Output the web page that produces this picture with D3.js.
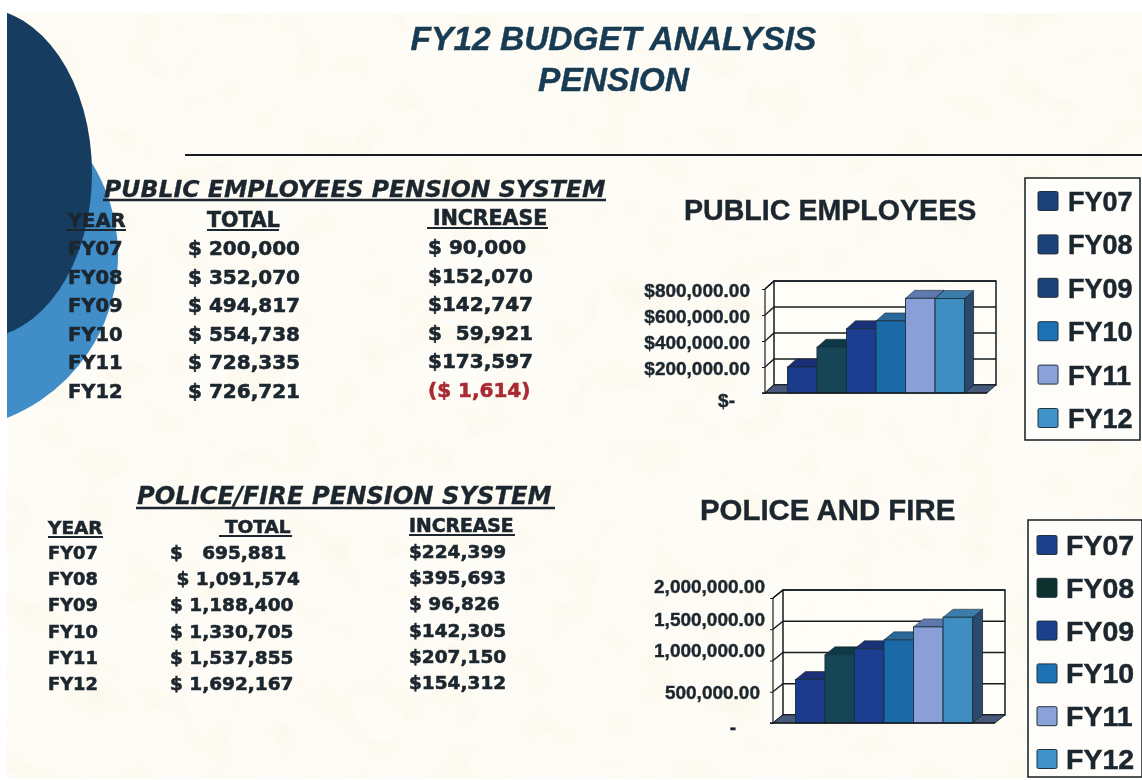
<!DOCTYPE html>
<html><head><meta charset="utf-8">
<script src="https://cdn.jsdelivr.net/npm/d3@7"></script>
<style>html,body{margin:0;padding:0;background:#fff}svg{display:block}</style>
</head><body><svg id="c" width="1142" height="780"></svg>
<script>
const years = ["FY07","FY08","FY09","FY10","FY11","FY12"];
const publicTotals = [200000,352070,494817,554738,728335,726721];
const policeTotals = [695881,1091574,1188400,1330705,1537855,1692167];
const publicTotalLabels = ["$ 200,000","$ 352,070","$ 494,817","$ 554,738","$ 728,335","$ 726,721"];
const publicIncreaseLabels = ["$ 90,000","$152,070","$142,747","$  59,921","$173,597","($ 1,614)"];
const policeTotalLabels = ["$   695,881"," $ 1,091,574","$ 1,188,400","$ 1,330,705","$ 1,537,855","$ 1,692,167"];
const policeIncreaseLabels = ["$224,399","$395,693","$ 96,826","$142,305","$207,150","$154,312"];
const publicTicks = [0,200000,400000,600000,800000];
const policeTicks = [0,500000,1000000,1500000,2000000];
const barFront = ["#1f3a8c","#124454","#1f3c90","#1f69a8","#8a9fd8","#3f8dc2"];
const barTop = ["#1c2f74","#113846","#1c3078","#2a6798","#5f78ae","#3d7ba8"];
const publicLegendColors = ["#1f3f78","#1f3f78","#1f3f78","#1f72b4","#8aa2d8","#3f93c8"];
const policeLegendColors = ["#1f3f8c","#10302f","#1f3f8c","#1f72b4","#8aa2d8","#3f93c8"];

const svg = d3.select("#c");
const defs = svg.append("defs");
const paper = defs.append("filter").attr("id","paper").attr("x",0).attr("y",0).attr("width","100%").attr("height","100%");
paper.append("feTurbulence").attr("type","fractalNoise").attr("baseFrequency",0.025).attr("numOctaves",4).attr("seed",11);
paper.append("feColorMatrix").attr("type","matrix").attr("values","0 0 0 0 0.95  0 0 0 0 0.92  0 0 0 0 0.78  1.3 0 0 0 -0.58");
defs.append("filter").attr("id","soft").append("feGaussianBlur").attr("stdDeviation",0.5);

svg.append("rect").attr("width",1142).attr("height",780).attr("fill","#fff");
svg.append("rect").attr("x",7).attr("y",13).attr("width",1135).attr("height",765).attr("fill","#fefcf6");
svg.append("rect").attr("x",7).attr("y",13).attr("width",1135).attr("height",765).attr("filter","url(#paper)");

const g = svg.append("g").attr("filter","url(#soft)");
defs.append("clipPath").attr("id","leftClip").append("rect").attr("x",7).attr("y",13).attr("width",200).attr("height",760);
const circles = g.append("g").attr("clip-path","url(#leftClip)");
circles.append("circle").attr("cx",-57).attr("cy",255).attr("r",175).attr("fill","#3f8dc8");
circles.append("ellipse").attr("cx",-20).attr("cy",173).attr("rx",112).attr("ry",165).attr("fill","#133e5e");

const ink = "#1c262e";
const sans = "'Liberation Sans',Arial,sans-serif";
const wide = "'DejaVu Sans',Verdana,sans-serif";
function text(x,y,s,size,opts={}){
  return g.append("text").attr("x",x).attr("y",y).text(s)
    .attr("font-family",opts.family||sans).attr("font-size",size).attr("font-weight","bold")
    .attr("font-style",opts.italic?"italic":"normal").attr("fill",opts.fill||ink)
    .attr("stroke",opts.fill||ink).attr("stroke-width",opts.heavy===undefined?0.6:opts.heavy)
    .attr("text-anchor",opts.anchor||"start").style("white-space","pre");
}
text(613.5,50,"FY12 BUDGET ANALYSIS",33.5,{italic:true,anchor:"middle",fill:"#173a52",heavy:0.4});
text(613.5,91,"PENSION",33.5,{italic:true,anchor:"middle",fill:"#173a52",heavy:0.4});
g.append("line").attr("x1",185).attr("x2",1142).attr("y1",155).attr("y2",155).attr("stroke","#141c22").attr("stroke-width",1.8);

function underline(x1,x2,y,w){g.append("line").attr("x1",x1).attr("x2",x2).attr("y1",y).attr("y2",y).attr("stroke",ink).attr("stroke-width",w||2);}

text(104,197,"PUBLIC EMPLOYEES PENSION SYSTEM",23.6,{italic:true,family:wide,heavy:0.3});
underline(103,606,200,2.5);
text(68,227,"YEAR",19.5,{family:wide}); underline(66,126,230);
text(207,227,"TOTAL",20.5,{family:wide}); underline(207,279,230);
text(433,225,"INCREASE",20.5,{family:wide}); underline(427,548,228);
const rowA = d3.scalePoint().domain(years).range([255,398]);
years.forEach((y,i)=>{
  text(68,rowA(y),y,19.5,{family:wide});
  text(188,rowA(y),publicTotalLabels[i],20,{family:wide});
  const neg = publicIncreaseLabels[i].startsWith("(");
  text(428,rowA(y)-1,publicIncreaseLabels[i],20,{family:wide,fill:neg?"#a82a34":ink});
});

text(137,504,"POLICE/FIRE PENSION SYSTEM",24.2,{italic:true,family:wide,heavy:0.3});
underline(136,555,508,2.5);
text(48,534,"YEAR",18.5,{family:wide}); underline(48,103,537);
text(225,533,"TOTAL",18.5,{family:wide}); underline(219,292,536);
text(409,532,"INCREASE",18.8,{family:wide}); underline(409,515,535);
const rowB = d3.scalePoint().domain(years).range([559,690]);
years.forEach((y,i)=>{
  text(48,rowB(y),y,17.8,{family:wide});
  text(170,rowB(y),policeTotalLabels[i],18.5,{family:wide});
  text(409,rowB(y)-1,policeIncreaseLabels[i],18.5,{family:wide});
});

text(684,220,"PUBLIC EMPLOYEES",28.6,{heavy:0.4});
text(700,520,"POLICE AND FIRE",29.4,{heavy:0.4});

function chart3d(o){
  const c = g.append("g");
  const x = d3.scaleBand().domain(years).range([o.x0,o.x1]).paddingInner(0).paddingOuter(o.outer);
  const y = d3.scaleLinear().domain([0,o.max]).range([o.y0,o.yTop]);
  const dx=o.dx, dy=o.dy;
  c.append("rect").attr("x",o.x0+dx).attr("y",o.yTop+dy).attr("width",o.x1-o.x0).attr("height",o.y0-o.yTop)
    .attr("fill","#fefdf8").attr("fill-opacity",0.7).attr("stroke","#141c22").attr("stroke-width",1.5);
  c.selectAll(".grid").data(o.ticks).join("polyline")
    .attr("points",d=>[[o.x0,y(d)],[o.x0+dx,y(d)+dy],[o.x1+dx,y(d)+dy]].join(" "))
    .attr("fill","none").attr("stroke","#141c22").attr("stroke-width",1.4);
  c.append("line").attr("x1",o.x0).attr("x2",o.x0).attr("y1",o.yTop).attr("y2",o.y0).attr("stroke","#141c22").attr("stroke-width",1.2);
  c.append("line").attr("x1",o.x0).attr("x2",o.x0+dx).attr("y1",o.yTop).attr("y2",o.yTop+dy).attr("stroke","#141c22").attr("stroke-width",1.2);
  c.append("polygon").attr("points",[[o.x0,o.y0],[o.x1,o.y0],[o.x1+dx,o.y0+dy],[o.x0+dx,o.y0+dy]].join(" "))
    .attr("fill","#47587a").attr("stroke","#141c22").attr("stroke-width",0.8);
  const bars = c.selectAll(".bar").data(o.values).join("g");
  bars.append("polygon").attr("points",(d,i)=>{const a=x(years[i])+x.bandwidth();return [[a,y(d)],[a+dx,y(d)+dy],[a+dx,o.y0+dy],[a,o.y0]].join(" ");})
    .attr("fill","#2b4a6c").attr("stroke","#141c22").attr("stroke-width",0.7);
  bars.append("polygon").attr("points",(d,i)=>{const a=x(years[i]),b=a+x.bandwidth();return [[a,y(d)],[b,y(d)],[b+dx,y(d)+dy],[a+dx,y(d)+dy]].join(" ");})
    .attr("fill",(d,i)=>barTop[i]).attr("stroke","#141c22").attr("stroke-width",0.5);
  bars.append("rect").attr("x",(d,i)=>x(years[i])).attr("y",d=>y(d)).attr("width",x.bandwidth()).attr("height",d=>o.y0-y(d))
    .attr("fill",(d,i)=>barFront[i]).attr("stroke","#16323f").attr("stroke-width",0.9);
  c.append("line").attr("x1",o.x0-3).attr("x2",o.x1).attr("y1",o.y0).attr("y2",o.y0).attr("stroke","#141c22").attr("stroke-width",1.5);
  const ax = c.append("g").attr("transform",`translate(${o.x0},0)`)
    .call(d3.axisLeft(y).tickValues(o.ticks).tickSize(3).tickPadding(o.pad).tickFormat(o.fmt));
  ax.select(".domain").remove();
  ax.selectAll("line").attr("stroke","#141c22");
  ax.selectAll("text").attr("font-family",sans).attr("font-size",o.tickSize).attr("font-weight","bold").attr("fill",ink)
    .attr("stroke",ink).attr("stroke-width",0.4)
    .attr("transform",d=>{const s=o.nudge(d);return `translate(${s[0]},${s[1]})`;});
}
const f2 = d3.format(",.2f");
chart3d({values:publicTotals,ticks:publicTicks,max:800000,x0:765,x1:987,y0:393,yTop:289,dx:9,dy:-8,outer:0.76,
  pad:12,tickSize:19,fmt:d=>d===0?"$-":"$"+f2(d),nudge:d=>d===0?[-15,7]:[0,1]});
chart3d({values:policeTotals,ticks:policeTicks,max:2000000,x0:773,x1:995,y0:723,yTop:598,dx:10,dy:-8,outer:0.76,
  pad:5,tickSize:19,fmt:d=>d===0?"-":f2(d),nudge:d=>d===0?[-29,4]:d===500000?[-5,1]:d===2000000?[0,-12]:[0,-10]});

function legend(o){
  g.append("rect").attr("x",o.x).attr("y",o.y).attr("width",o.w).attr("height",o.h).attr("fill","#fefdf9").attr("stroke","#141c22").attr("stroke-width",1.5);
  const r = d3.scalePoint().domain(years).range(o.rows);
  years.forEach((yr,i)=>{
    g.append("rect").attr("x",o.sx).attr("y",r(yr)-9.5).attr("width",20).attr("height",19).attr("rx",1.5).attr("fill",o.colors[i]).attr("stroke","#20303c").attr("stroke-width",1);
    text(o.tx,r(yr)+10,yr,o.size,{heavy:0.5});
  });
}
legend({x:1025,y:178,w:115,h:262,rows:[201,418],sx:1038,tx:1068,size:27,colors:publicLegendColors});
legend({x:1028,y:520,w:114,h:257,rows:[545,759],sx:1037,tx:1066,size:28.5,colors:policeLegendColors});
</script></body></html>
